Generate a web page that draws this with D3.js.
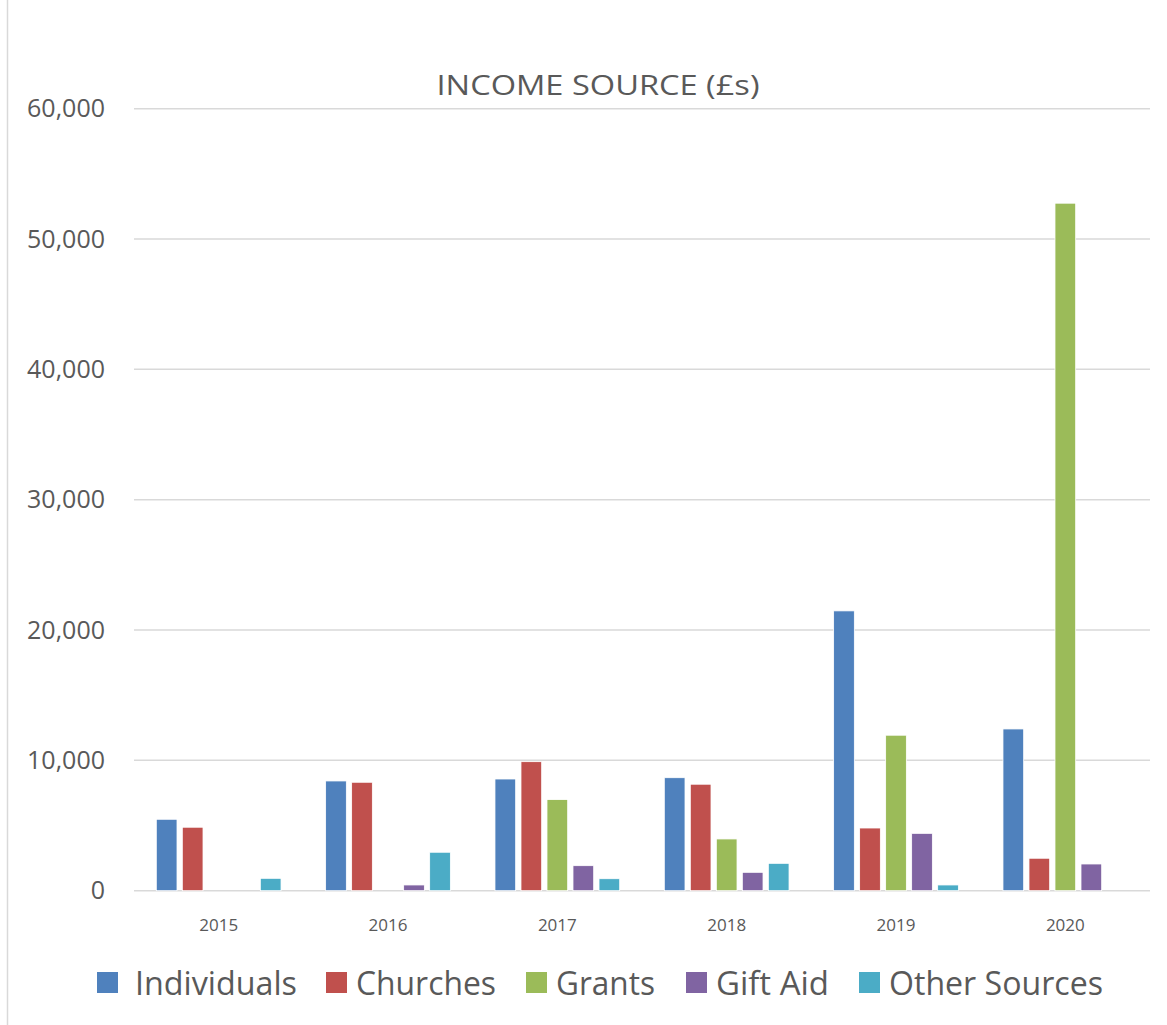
<!DOCTYPE html>
<html>
<head>
<meta charset="utf-8">
<script src="https://cdn.jsdelivr.net/npm/d3@7"></script>
<style>
  html, body { margin: 0; padding: 0; background: #fff; }
  svg { display: block; }
  text { font-family: "Open Sans", "Noto Sans", sans-serif; fill: #595959; }
</style>
</head>
<body>
<svg id="chart" width="1167" height="1025"></svg>
<script>
const years = ["2015", "2016", "2017", "2018", "2019", "2020"];
const seriesNames = ["Individuals", "Churches", "Grants", "Gift Aid", "Other Sources"];
const individuals = [5480, 8420, 8570, 8670, 21470, 12410];
const churches    = [4870, 8320, 9900, 8170, 4810, 2490];
const grants      = [0, 0, 6990, 3970, 11930, 52750];
const giftAid     = [0, 440, 1920, 1410, 4400, 2050];
const otherSources= [950, 2950, 920, 2100, 440, 0];
const yTicks = [0, 10000, 20000, 30000, 40000, 50000, 60000];
const colors = ["#4F81BD", "#C0504D", "#9BBB59", "#8064A2", "#4BACC6"];

const seriesValues = [individuals, churches, grants, giftAid, otherSources];

const svg = d3.select("#chart");
const plotLeft = 134, plotRight = 1150, plotTop = 108.7, plotBottom = 890.7;

// chart border (left edge visible)
svg.append("line").attr("x1", 7.5).attr("x2", 7.5).attr("y1", 0).attr("y2", 1025)
  .attr("stroke", "#d9d9d9").attr("stroke-width", 1.5);

const y = d3.scaleLinear().domain([0, 60000]).range([plotBottom, plotTop]);
const x0 = d3.scaleBand().domain(years).range([plotLeft, plotRight]).paddingInner(0.2634).paddingOuter(0.1317);
const x1 = d3.scaleBand().domain(seriesNames).range([0, x0.bandwidth()]).paddingInner(0.204).paddingOuter(0);

// gridlines
svg.append("g").selectAll("line").data(yTicks).join("line")
  .attr("x1", plotLeft).attr("x2", plotRight)
  .attr("y1", d => y(d)).attr("y2", d => y(d))
  .attr("stroke", "#d9d9d9").attr("stroke-width", 1.5);

// y axis labels
const fmt = d3.format(",");
svg.append("g").selectAll("text").data(yTicks).join("text")
  .attr("x", 105).attr("y", d => y(d)).attr("dy", "0.35em")
  .attr("text-anchor", "end").attr("font-size", 25)
  .text(d => fmt(d));

// bars
const groups = svg.append("g").selectAll("g").data(years).join("g")
  .attr("transform", d => `translate(${x0(d)},0)`);
groups.selectAll("rect")
  .data((yr, i) => seriesNames.map((s, j) => ({ s, j, v: seriesValues[j][i] })).filter(d => d.v > 0))
  .join("rect")
  .attr("x", d => x1(d.s))
  .attr("width", x1.bandwidth())
  .attr("y", d => y(d.v))
  .attr("height", d => y(0) - y(d.v))
  .attr("fill", d => colors[d.j])
  .attr("stroke", "#ffffff").attr("stroke-width", 0.8);

// x axis labels
svg.append("g").selectAll("text").data(years).join("text")
  .attr("x", d => x0(d) + x0.bandwidth() / 2).attr("y", 925).attr("dy", "0.35em")
  .attr("text-anchor", "middle").attr("font-size", 17)
  .text(d => d);

// title
svg.append("text").attr("x", 598).attr("y", 85).attr("dy", "0.35em")
  .attr("text-anchor", "middle").attr("font-size", 28)
  .attr("textLength", 323).attr("lengthAdjust", "spacingAndGlyphs")
  .text("INCOME SOURCE (£s)");

// legend
const legendX = [97, 326, 526, 686, 859];
const legendTextOff = [38, 30, 30, 30, 30];
const legendTextW = [162, 140, 99, 113, 214];
const lg = svg.append("g").selectAll("g").data(seriesNames).join("g")
  .attr("transform", (d, i) => `translate(${legendX[i]},972)`);
lg.append("rect").attr("width", 21).attr("height", 21).attr("fill", (d, i) => colors[i]);
lg.append("text").attr("x", (d, i) => legendTextOff[i]).attr("y", 11).attr("dy", "0.35em")
  .attr("font-size", 33)
  .attr("textLength", (d, i) => legendTextW[i]).attr("lengthAdjust", "spacingAndGlyphs")
  .text(d => d);
</script>
</body>
</html>
